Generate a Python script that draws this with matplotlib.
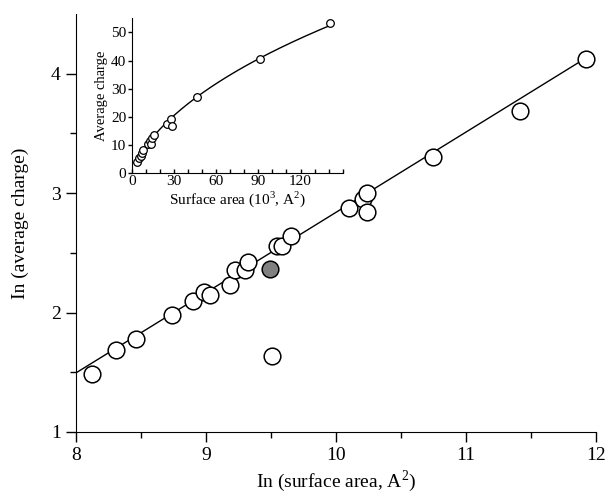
import numpy as np
import matplotlib.pyplot as plt

plt.rcParams['font.family'] = ['Liberation Serif', 'DejaVu Serif']
plt.rcParams['mathtext.fontset'] = 'custom'
plt.rcParams['mathtext.rm'] = 'Liberation Serif'

# main panel: ln(surface area) vs ln(average charge)
ln_area = [8.125, 8.305, 8.46, 8.736, 8.897, 8.985, 9.028, 9.185, 9.223, 9.297,
           9.325, 9.508, 9.549, 9.587, 9.651, 10.10, 10.21, 10.236, 10.238,
           10.749, 11.415, 11.92]
ln_charge = [1.487, 1.69, 1.78, 1.977, 2.10, 2.17, 2.15, 2.228, 2.353, 2.36,
             2.42, 1.637, 2.556, 2.556, 2.637, 2.877, 2.95, 3.0, 2.846,
             3.306, 3.69, 4.127]
# grey (highlighted) point
hl_area = [9.495]
hl_charge = [2.364]
# fitted line end points
fit_x = [8.0, 11.92]
fit_y = [1.495, 4.13]

# inset: surface area (10^3 A^2) vs average charge
in_area = [3.5, 5.2, 6.4, 7.6, 8.3, 11.3, 13.0, 13.5, 14.2, 16.0, 24.8, 27.6,
           28.6, 46.5, 90.9, 140.8]
in_charge = [4.15, 5.3, 6.2, 7.1, 8.3, 10.4, 11.3, 10.3, 12.4, 13.6, 17.5, 19.2,
             16.8, 27.1, 40.4, 53.3]
# points
curve_x = [3.5, 10, 20, 30, 46.5, 70, 91, 115, 140.8]
curve_y = [4.3, 9.8, 15.5, 20.5, 27.2, 34.5, 40.6, 46.8, 53.0]

fig = plt.figure(figsize=(6.09, 4.97), dpi=100)
ax = fig.add_axes([0.1248, 0.1308, 0.8539, 0.841])

ax.plot(fit_x, fit_y, color='black', lw=1.0, zorder=1)
ax.plot(ln_area, ln_charge, 'o', ms=12, mfc='white', mec='black', mew=1.1, zorder=2)
ax.plot(hl_area, hl_charge, 'o', ms=12, mfc='#808080', mec='black', mew=1.1, zorder=2)

ax.set_xlim(8, 12)
ax.set_ylim(1, 4.5)
ax.set_xticks([8, 9, 10, 11, 12])
ax.set_xticks(np.arange(8.5, 12, 1), minor=True)
ax.set_yticks([1, 2, 3, 4])
ax.set_yticks([1.5, 2.5, 3.5], minor=True)
ax.spines['top'].set_visible(False)
ax.spines['right'].set_visible(False)
ax.tick_params(which='major', direction='out', length=7, width=1, labelsize=14, pad=4)
ax.tick_params(which='minor', direction='out', length=4, width=1)
ax.set_xlabel('In (surface area, A$^2$)', fontsize=14, labelpad=3)
ax.set_ylabel('In (average charge)', fontsize=14, labelpad=16)

# inset
ins = fig.add_axes([0.2163, 0.6513, 0.3465, 0.3119])
cx = np.linspace(min(curve_x), max(curve_x), 200)
coef = np.polyfit(np.log(curve_x), np.log(curve_y), 2)
ins.plot(cx, np.exp(np.polyval(coef, np.log(cx))), color='black', lw=1.0, zorder=1)
ins.plot(in_area, in_charge, 'o', ms=5.5, mfc='white', mec='black', mew=0.9, zorder=2)
ins.set_xlim(0, 150)
ins.set_ylim(0, 55)
ins.set_xticks([0, 30, 60, 90, 120])
ins.set_xticks(np.arange(0, 151, 10), minor=True)
ins.set_yticks([0, 10, 20, 30, 40, 50])
ins.spines['top'].set_visible(False)
ins.spines['right'].set_visible(False)
ins.tick_params(axis='x', which='both', direction='in', length=3, width=1, labelsize=11, pad=1)
ins.tick_params(axis='y', which='both', direction='out', length=3, width=1, labelsize=11, pad=1)
ins.set_xlabel('Surface area (10$^3$, A$^2$)', fontsize=11, labelpad=1)
ins.set_ylabel('Average charge', fontsize=10.5, labelpad=2)

fig.savefig('out.png', dpi=100)
